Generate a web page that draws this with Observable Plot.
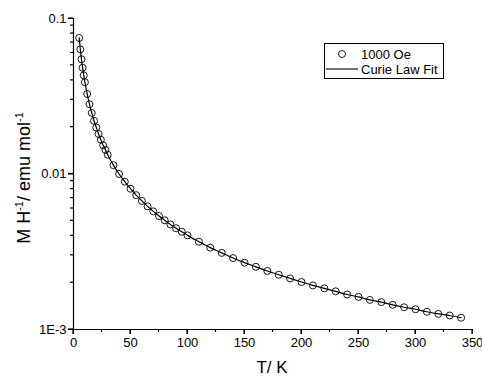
<!DOCTYPE html>
<html><head><meta charset="utf-8">
<script src="https://cdn.jsdelivr.net/npm/d3@7"></script>
<script src="https://cdn.jsdelivr.net/npm/@observablehq/plot@0.6"></script>
<style>
body{margin:0;background:#fff;}
#chart{position:relative;width:482px;height:377px;font-family:"Liberation Sans",Arial,sans-serif;}
#legend{position:absolute;left:324px;top:43px;width:120px;height:36px;border:1px solid #000;box-sizing:border-box;font-size:13px;color:#000;}
#legend .row{position:absolute;left:0;height:14px;display:flex;align-items:center;}
#legend svg{display:block;}
</style></head><body><div id="chart"><div id="legend">
<div class="row" style="top:3px"><svg width="36" height="14"><circle cx="17" cy="7" r="3.5" fill="none" stroke="#000" stroke-width="0.9"/></svg><span>1000 Oe</span></div>
<div class="row" style="top:18px"><svg width="36" height="14"><line x1="1" x2="33" y1="7" y2="7" stroke="#000" stroke-width="1.1"/></svg><span>Curie Law Fit</span></div>
</div></div>
<script>
const temperatures = [5,6,7,8,9,10,12,14,16,18,20,22,24,26,28,30,35,40,45,50,55,60,65,70,75,80,85,90,95,100,110,120,130,140,150,160,170,180,190,200,210,220,230,240,250,260,270,280,290,300,310,320,330,340];
const susceptibility = [0.0750,0.0633,0.0547,0.0482,0.0431,0.0389,0.0327,0.0281,0.0247,0.0220,0.0199,0.0181,0.0166,0.0153,0.0143,0.0133,0.0114,0.0100,0.00892,0.00804,0.00731,0.00671,0.00619,0.00575,0.00537,0.00504,0.00474,0.00448,0.00425,0.00403,0.00367,0.00336,0.00311,0.00288,0.00269,0.00253,0.00238,0.00225,0.00213,0.00202,0.00192,0.00184,0.00176,0.00168,0.00162,0.00155,0.00150,0.00144,0.00139,0.00135,0.00130,0.00126,0.00123,0.00119];
const fitValues = [0.0750,0.0633,0.0547,0.0482,0.0431,0.0389,0.0327,0.0281,0.0247,0.0220,0.0199,0.0181,0.0166,0.0153,0.0143,0.0133,0.0114,0.0100,0.00892,0.00804,0.00731,0.00671,0.00619,0.00575,0.00537,0.00504,0.00474,0.00448,0.00425,0.00403,0.00367,0.00336,0.00311,0.00288,0.00269,0.00253,0.00238,0.00225,0.00213,0.00202,0.00192,0.00184,0.00176,0.00168,0.00162,0.00155,0.00150,0.00144,0.00139,0.00135,0.00130,0.00126,0.00123,0.00119];
const xMajorTicks = [0,50,100,150,200,250,300,350];
const xMinorTicks = [25,75,125,175,225,275,325];
const yMajorTicks = [0.1,0.01,0.001];
const yMajorLabels = ["0.1","0.01","1E-3"];
const yMinorTicks = [0.002,0.003,0.004,0.005,0.006,0.007,0.008,0.009,0.02,0.03,0.04,0.05,0.06,0.07,0.08,0.09];

const points = temperatures.map((t,i)=>({T:t, chi:susceptibility[i]}));
const fit = temperatures.map((t,i)=>({T:t, chi:fitValues[i]}));
const labelMap = new Map(yMajorTicks.map((v,i)=>[v, yMajorLabels[i]]));

const plot = Plot.plot({
  width:482, height:377,
  marginLeft:73, marginRight:10, marginTop:18, marginBottom:48,
  style:{fontFamily:"Liberation Sans, Arial, sans-serif", fontSize:"13px", color:"#000", background:"#fff"},
  x:{domain:[0,350]},
  y:{type:"log", domain:[0.001,0.1]},
  marks:[
    Plot.axisX({ticks:xMajorTicks, tickSize:5, tickPadding:3, label:null}),
    Plot.axisY({ticks:yMajorTicks, tickSize:5, tickPadding:2, tickFormat:d=>labelMap.get(d), label:null}),
    Plot.ruleX([0], {stroke:"#000", strokeWidth:1.2}),
    Plot.ruleY([0.001], {stroke:"#000", strokeWidth:1.2}),
    Plot.line(fit, {x:"T", y:"chi", stroke:"#000", strokeWidth:1.2, curve:"monotone-x"}),
    Plot.dot(points, {x:"T", y:"chi", r:3.5, stroke:"#000", strokeWidth:0.9, fill:"none"})
  ]
});
document.getElementById("chart").prepend(plot);

const svg = d3.select(plot);
const xs = plot.scale("x"), ys = plot.scale("y");
const x0 = xs.apply(0), yb = ys.apply(0.001);
const tg = svg.append("g").attr("stroke","#000").attr("stroke-width",1.2);
xMajorTicks.forEach(v=>{const px=xs.apply(v); tg.append("line").attr("x1",px).attr("x2",px).attr("y1",yb).attr("y2",yb+5);});
xMinorTicks.forEach(v=>{const px=xs.apply(v); tg.append("line").attr("x1",px).attr("x2",px).attr("y1",yb).attr("y2",yb+3);});
yMajorTicks.forEach(v=>{const py=ys.apply(v); tg.append("line").attr("x1",x0-5).attr("x2",x0).attr("y1",py).attr("y2",py);});
yMinorTicks.forEach(v=>{const py=ys.apply(v); tg.append("line").attr("x1",x0-3).attr("x2",x0).attr("y1",py).attr("y2",py);});

svg.append("text").attr("x", 272).attr("y", 373).attr("text-anchor","middle")
  .attr("font-size", 17).attr("fill","#000").text("T/ K");
const yl = svg.append("text").attr("transform","translate(30,178) rotate(-90)")
  .attr("text-anchor","middle").attr("font-size",18).attr("fill","#000");
yl.append("tspan").text("M H");
yl.append("tspan").attr("font-size",11).attr("dy","-7").text("-1");
yl.append("tspan").attr("dy","7").text("/ emu mol");
yl.append("tspan").attr("font-size",11).attr("dy","-7").text("-1");
</script>
</body></html>
